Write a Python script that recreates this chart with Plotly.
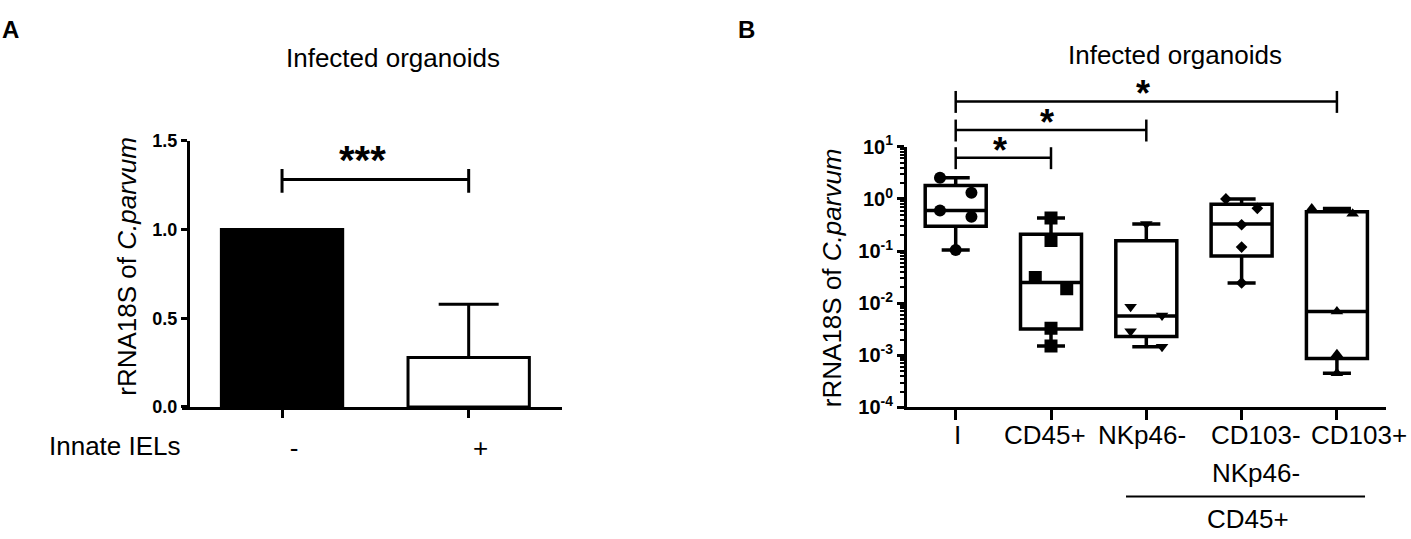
import plotly.graph_objects as go

W, H = 1411, 539
FONT = "Liberation Sans, Arial, sans-serif"

# ---- panel A data ----
a_groups = ["-", "+"]
a_values = [1.0, 0.279]
a_err_up = [0.0, 0.30]

# ---- panel B data ----
b_cats = ["I", "CD45+", "NKp46-", "CD103-<br>NKp46-", "CD103+"]
b_q1 = [0.30, 0.0032, 0.0023, 0.080, 0.00087]
b_median = [0.60, 0.025, 0.0057, 0.33, 0.0069]
b_q3 = [1.81, 0.21, 0.157, 0.79, 0.567]
b_min = [0.105, 0.0015, 0.00145, 0.0244, 0.00045]
b_max = [2.55, 0.43, 0.33, 1.0, 0.656]

pts_I = [2.55, 1.32, 0.60, 0.456, 0.105]
pts_cd45 = [0.43, 0.16, 0.031, 0.019, 0.0033, 0.0015]
pts_nkp46 = [0.33, 0.0085, 0.0058, 0.0029, 0.00145]
pts_cd103neg = [1.0, 0.66, 0.32, 0.119, 0.0244]
pts_cd103pos = [0.656, 0.52, 0.0069, 0.00105, 0.00045]
b_points = [pts_I, pts_cd45, pts_nkp46, pts_cd103neg, pts_cd103pos]

# horizontal spread of the dots (multiples of a fixed step)
spread = [[-1, 1, -1, 1, 0],
          [0, 0, -1, 1, 0, 0],
          [0, -1, 1, -1, 1],
          [-1, 1, 0, 0, 0],
          [-1.6, 1, 0, 0, 0]]
symbols = ["circle", "square", "triangle-down", "diamond", "triangle-up"]
sym_sizes = [12, 13, 11, 9, 11]

# significance comparisons: (from, to, label)
b_sig = [(0, 1, "*"), (0, 2, "*"), (0, 4, "*")]


def px(x):
    return x / W


def py(y):
    return 1 - y / H


def note(text, x, y, size=26, bold=False, **kw):
    d = dict(text=text, xref="paper", yref="paper", x=px(x), y=py(y),
             xanchor="center", yanchor="middle", showarrow=False,
             font=dict(size=size, weight="bold" if bold else "normal"))
    d.update(kw)
    return d


fig = go.Figure()

# panel A bars
fig.add_trace(go.Bar(
    x=[0], y=[a_values[0]], width=0.65,
    marker=dict(color="black", line=dict(color="black", width=3)),
    xaxis="x", yaxis="y", showlegend=False))
fig.add_trace(go.Bar(
    x=[1], y=[a_values[1]], width=0.65,
    marker=dict(color="white", line=dict(color="black", width=3)),
    error_y=dict(type="data", array=[a_err_up[1]], arrayminus=[0], symmetric=False,
                 color="black", thickness=3, width=30),
    xaxis="x", yaxis="y", showlegend=False))

# panel B boxes
for i in range(len(b_cats)):
    fig.add_trace(go.Box(
        x=[i], q1=[b_q1[i]], median=[b_median[i]], q3=[b_q3[i]],
        lowerfence=[b_min[i]], upperfence=[b_max[i]],
        width=0.64, whiskerwidth=0.46, boxpoints=False,
        fillcolor="white", line=dict(color="black", width=3.5),
        xaxis="x2", yaxis="y2", showlegend=False, hoverinfo="skip"))

for i, vals in enumerate(b_points):
    fig.add_trace(go.Scatter(
        x=[i + 0.165 * s for s in spread[i]], y=vals, mode="markers",
        marker=dict(symbol=symbols[i], size=sym_sizes[i], color="black"),
        xaxis="x2", yaxis="y2", showlegend=False))

shapes = []
annotations = []

# panel A significance bracket
shapes.append(dict(type="line", xref="x", yref="y", x0=0, x1=1, y0=1.282, y1=1.282,
                   line=dict(color="black", width=3)))
for xx in (0, 1):
    shapes.append(dict(type="line", xref="x", yref="y", x0=xx, x1=xx, y0=1.207, y1=1.341,
                       line=dict(color="black", width=3)))
annotations.append(dict(text="***", xref="x", yref="y", x=0.43, y=1.415, yshift=-4,
                        xanchor="center", yanchor="middle",
                        showarrow=False, font=dict(size=40, weight="bold")))

# panel B significance brackets
bracket_px = [150.7, 121.7, 91.7]
for (a, b, lab), ypx in zip(b_sig, bracket_px):
    shapes.append(dict(type="line", xref="x2", yref="paper", x0=a, x1=b,
                       y0=py(ypx), y1=py(ypx), line=dict(color="black", width=2.5)))
    for xx in (a, b):
        shapes.append(dict(type="line", xref="x2", yref="paper", x0=xx, x1=xx,
                           y0=py(ypx - 11), y1=py(ypx + 12),
                           line=dict(color="black", width=2.5)))
    annotations.append(dict(text=lab, xref="x2", yref="paper", x=(a + b) / 2 - 0.04,
                            y=py(ypx - 8), xanchor="center", yanchor="middle",
                            showarrow=False, font=dict(size=36, weight="bold")))

# panel B category labels (second line of a label sits lower)
label_shift = [2, -6, -4, 14, 22]
for i, lab in enumerate(b_cats):
    for k, part in enumerate(lab.split("<br>")):
        annotations.append(dict(text=part, xref="x2", yref="paper", x=i, xshift=label_shift[i],
                                y=py(441 + 40 * k), xanchor="center", yanchor="middle",
                                showarrow=False, font=dict(size=26)))
shapes.append(dict(type="line", xref="x2", yref="paper", x0=1.787, x1=4.295,
                   y0=py(506), y1=py(506), line=dict(color="black", width=2)))
annotations.append(dict(text="CD45+", xref="x2", yref="paper", x=3.07, y=py(530),
                        xanchor="center", yanchor="middle",
                        showarrow=False, font=dict(size=26)))

# titles, axis titles, panel letters
annotations += [
    note("Infected organoids", 393, 46),
    note("Infected organoids", 1175, 43),
    note("rRNA18S of <i>C.parvum</i>", 127, 265, textangle=-90),
    note("rRNA18S of <i>C.parvum</i>", 832, 277, textangle=-90),
    note("Innate IELs", 115, 453),
    note("A", 10, 16, size=24, bold=True),
    note("B", 746, 16, size=24, bold=True),
]

b_tickvals = [1e-4, 1e-3, 1e-2, 1e-1, 1, 10]
b_ticktext = ["10<sup>-4</sup>", "10<sup>-3</sup>", "10<sup>-2</sup>",
              "10<sup>-1</sup>", "10<sup>0</sup>", "10<sup>1</sup>"]

fig.update_layout(
    width=W, height=H,
    margin=dict(l=0, r=0, t=0, b=0),
    paper_bgcolor="white", plot_bgcolor="white",
    font=dict(family=FONT, color="black"),
    barmode="overlay", boxmode="overlay",
    showlegend=False,
    shapes=shapes, annotations=annotations,
    xaxis=dict(domain=[px(182), px(562)], range=[-0.536, 1.5], anchor="y",
               showline=True, linewidth=3, linecolor="black",
               ticks="outside", ticklen=8, tickwidth=3, tickcolor="black",
               tickvals=[0, 1], ticktext=a_groups, tickfont=dict(size=26),
               ticklabelshift=12, ticklabelstandoff=8,
               showgrid=False, zeroline=False),
    yaxis=dict(domain=[py(412), py(133)], range=[0, 1.5], anchor="free", position=px(188),
               showline=True, linewidth=3, linecolor="black",
               ticks="outside", ticklen=6, tickwidth=3, tickcolor="black",
               dtick=0.5, tickformat=".1f", tickfont=dict(size=18, weight="bold"),
               showgrid=False, zeroline=False),
    xaxis2=dict(domain=[px(907), px(1386)], range=[-0.511, 4.515], anchor="y2",
                showline=True, linewidth=3, linecolor="black",
                ticks="outside", ticklen=10, tickwidth=3, tickcolor="black",
                tickvals=list(range(len(b_cats))), showticklabels=False,
                showgrid=False, zeroline=False),
    yaxis2=dict(type="log", domain=[py(412.5), py(139.3)], range=[-4, 1], anchor="x2",
                showline=True, linewidth=3, linecolor="black",
                ticks="outside", ticklen=7, tickwidth=3, tickcolor="black",
                tickvals=b_tickvals, ticktext=b_ticktext,
                tickfont=dict(size=20, weight="bold"),
                minor=dict(ticks="outside", ticklen=4, tickwidth=1.5, tickcolor="black",
                           dtick="D1"),
                showgrid=False, zeroline=False),
)

fig.write_html("out.html", config={"displayModeBar": False},
               post_script="document.body.style.margin='0';")
